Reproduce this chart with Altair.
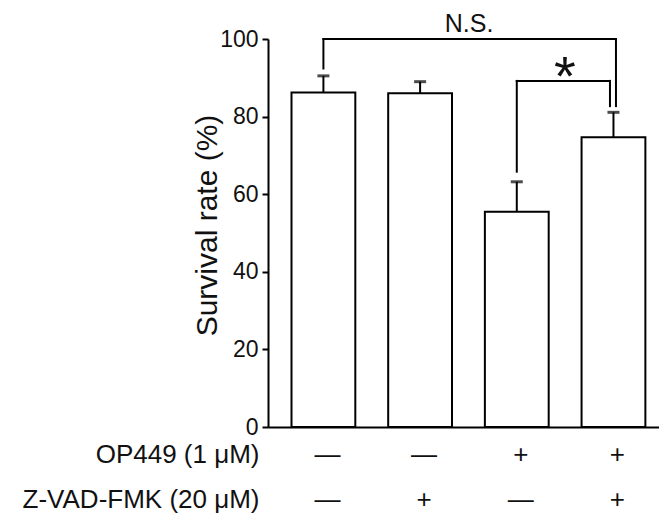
import altair as alt
import pandas as pd

# ---- data ----
op449 = ["—", "—", "+", "+"]
zvad = ["—", "+", "—", "+"]
survival = [86.2, 86.0, 55.5, 74.7]
error = [4.3, 3.0, 7.7, 6.4]
row_names = ["OP449 (1 μM)", "Z-VAD-FMK (20 μM)"]
y_ticks = [0, 20, 40, 60, 80, 100]

# significance brackets (group index pairs, heights in %)
ns_pair = [0, 3]
ns_left_low, ns_top, ns_right_low = 92.4, 100.0, 82.7
ns_label, ns_label_y = "N.S.", 101.8
star_pair = [2, 3]
star_left_low, star_top, star_right_low = 65.8, 89.2, 82.7
star_label, star_label_y = "*", 85.5

FONT = "Liberation Sans"
INK = "#111111"

cats = [f"{a}|{b}" for a, b in zip(op449, zvad)]
df = pd.DataFrame({
    "cat": cats,
    "y": survival,
    "y2": [m + e for m, e in zip(survival, error)],
})
caps_df = pd.DataFrame({"cat": cats, "y": [m + e for m, e in zip(survival, error)]})

X = alt.X(
    "cat:N", sort=None,
    scale=alt.Scale(domain=cats, paddingInner=0.34, paddingOuter=0.192, align=0.633),
    axis=alt.Axis(
        labelExpr="split(datum.label, '|')",
        labelAngle=0, labelFont=FONT, labelFontSize=26, labelColor=INK,
        labelLineHeight=45, labelPadding=14, labelBaseline="top", labelOffset=4,
        ticks=False, domainColor="black", domainWidth=2,
        title=row_names, titleFont=FONT, titleFontSize=26, titleFontWeight="normal",
        titleColor=INK, titleX=-9, titleY=14, titleAlign="right", titleAngle=0,
        titleBaseline="top", titleLineHeight=45,
    ),
)
Y = alt.Y(
    "y:Q",
    scale=alt.Scale(domain=[0, 100], nice=False),
    axis=alt.Axis(
        values=y_ticks, grid=False, tickSize=6, tickWidth=2, tickColor="black",
        domainColor="black", domainWidth=2,
        labelFont=FONT, labelFontSize=23, labelColor=INK, labelPadding=4,
        title="Survival rate (%)", titleFont=FONT, titleFontSize=30,
        titleFontWeight="normal", titleColor=INK, titleX=-52, titleY=186,
        titleAngle=270, titleAlign="center", titleBaseline="alphabetic",
    ),
)

bars = alt.Chart(df).mark_bar(fill="white", stroke="black", strokeWidth=2).encode(x=X, y=Y)
err = alt.Chart(df).mark_rule(color="black", strokeWidth=2).encode(x=X, y=Y, y2="y2:Q")
caps = alt.Chart(caps_df).mark_tick(color="black", size=12, thickness=3, orient="horizontal").encode(
    x=X, y=Y)

# brackets
def vseg(ci, lo, hi, off):
    d = pd.DataFrame({"cat": [cats[ci]], "y": [lo], "y2": [hi]})
    return alt.Chart(d).mark_rule(color="black", strokeWidth=2, xOffset=off, strokeCap="square").encode(
        x=X, y=Y, y2="y2:Q")

def hseg(ca, cb, yv, off2):
    d = pd.DataFrame({"cat": [cats[ca]], "cat2": [cats[cb]], "y": [yv]})
    return alt.Chart(d).mark_rule(color="black", strokeWidth=2, x2Offset=off2, strokeCap="square").encode(
        x=X, x2="cat2:N", y=Y)

ns_layers = [
    vseg(ns_pair[0], ns_left_low, ns_top, 0),
    hseg(ns_pair[0], ns_pair[1], ns_top, 2.5),
    vseg(ns_pair[1], ns_right_low, ns_top, 2.5),
]
star_layers = [
    vseg(star_pair[0], star_left_low, star_top, 0),
    hseg(star_pair[0], star_pair[1], star_top, -3.5),
    vseg(star_pair[1], star_right_low, star_top, -3.5),
]

ns_df = pd.DataFrame({"cat": [cats[1]], "y": [ns_label_y], "label": [ns_label]})
star_df = pd.DataFrame({"cat": [cats[2]], "y": [star_label_y], "label": [star_label]})
ns_text = alt.Chart(ns_df).mark_text(
    font=FONT, fontSize=25, color=INK, baseline="alphabetic", dx=49
).encode(x=X, y=Y, text="label:N")
star_text = alt.Chart(star_df).mark_text(
    font=FONT, fontSize=56, color=INK, baseline="alphabetic", dx=48
).encode(x=X, y=Y, text="label:N")

chart = alt.layer(
    bars, err, caps, *ns_layers, *star_layers, ns_text, star_text
).properties(
    width=391, height=388,
    autosize=alt.AutoSizeParams(type="none"),
    padding={"left": 260, "top": 31, "right": 0, "bottom": 100},
).configure(background="white").configure_view(stroke=None)

chart.save("out.html", embed_options={"renderer": "svg", "actions": False})
